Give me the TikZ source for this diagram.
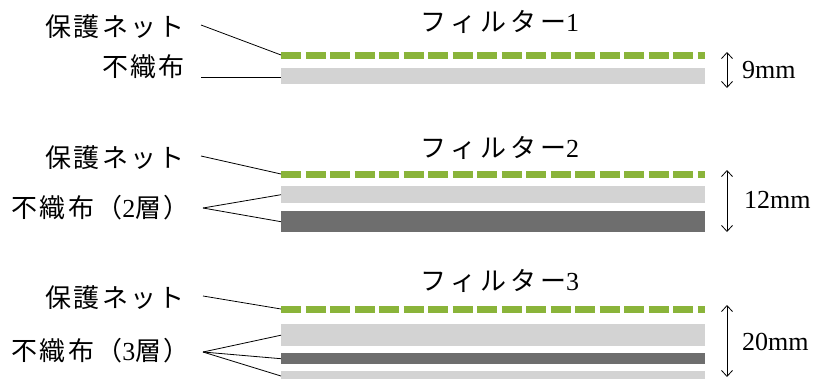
\documentclass[tikz,border=0pt]{standalone}
\usepackage{fontspec}
\setmainfont{Liberation Serif}
\newfontfamily\jp[LetterSpace=9]{Noto Sans CJK JP}
\newfontfamily\jpwide[LetterSpace=15]{Noto Sans CJK JP}
\usetikzlibrary{arrows.meta}
\definecolor{netgreen}{RGB}{138,180,58}
\definecolor{lightfleece}{RGB}{211,211,211}
\definecolor{darkfleece}{RGB}{110,110,110}
\tikzset{
  net/.style={draw=netgreen, line width=7pt, dash pattern=on 20pt off 4.5pt},
  sheet/.style={inner sep=0pt, minimum width=424pt, anchor=north west},
  lbl/.style={font=\fontsize{26}{26}\selectfont\jp, inner sep=0pt, anchor=east},
  ttl/.style={font=\fontsize{26}{26}\selectfont, inner sep=0pt},
  dim/.style={{Straight Barb[length=6pt,width=11pt]}-{Straight Barb[length=6pt,width=11pt]}, line width=0.8pt},
  mm/.style={font=\fontsize{26}{26}\selectfont, inner sep=0pt, anchor=west},
  lead/.style={line width=0.8pt}
}

\begin{document}
\begin{tikzpicture}[x=1pt,y=-1pt]
\useasboundingbox (0,0) rectangle (814,378);

% filter 1
\node[ttl] (t1) at (500,22) {{\jpwide フィルター}1};
\coordinate (n1) at (281,55);
\draw[net] (n1) -- ++(424,0);
\node[sheet, fill=lightfleece, minimum height=16pt] (s1a) at (281,68) {};
\node[lbl] (p1) at (185,27) {保護ネット};
\node[lbl] (f1) at (185,67) {不織布};
\draw[lead] ([xshift=16pt,yshift=2pt]p1.east) -- (n1);
\draw[lead] ([xshift=16pt,yshift=-10pt]f1.east) -- (s1a.west |- 0,77);
\coordinate (d1t) at (727,52);
\coordinate (d1b) at (727,88);
\draw[dim] (d1t) -- (d1b);
\node[mm] (m1) at (742,70) {9mm};

% filter 2
\node[ttl] (t2) at (500,148) {{\jpwide フィルター}2};
\coordinate (n2) at (281,174);
\draw[net] (n2) -- ++(424,0);
\node[sheet, fill=lightfleece, minimum height=17pt] (s2a) at (281,186) {};
\node[sheet, fill=darkfleece, minimum height=21pt] (s2b) at (281,211) {};
\node[lbl] (p2) at (185,158) {保護ネット};
\node[lbl] (f2) at (190,208) {不織布（{\rmfamily 2}層）};
\coordinate (c2) at (203,208);
\draw[lead] (201,156) -- (n2);
\draw[lead] (c2) -- (s2a.west);
\draw[lead] (c2) -- (s2b.west);
\coordinate (d2t) at (727,170);
\coordinate (d2b) at (727,232);
\draw[dim] (d2t) -- (d2b);
\node[mm] (m2) at (744,200) {12mm};

% filter 3
\node[ttl] (t3) at (500,281) {{\jpwide フィルター}3};
\coordinate (n3) at (281,309);
\draw[net] (n3) -- ++(424,0);
\node[sheet, fill=lightfleece, minimum height=22pt] (s3a) at (281,324) {};
\node[sheet, fill=darkfleece, minimum height=11pt] (s3b) at (281,353) {};
\node[sheet, fill=lightfleece, minimum height=10pt] (s3c) at (281,371) {};
\node[lbl] (p3) at (185,298) {保護ネット};
\node[lbl] (f3) at (190,351) {不織布（{\rmfamily 3}層）};
\coordinate (c3) at (203,352);
\draw[lead] (203,296) -- (n3);
\draw[lead] (c3) -- (s3a.west);
\draw[lead] (c3) -- (s3b.west);
\draw[lead] (c3) -- (281,376);
\coordinate (d3t) at (727,305);
\coordinate (d3b) at (727,377);
\draw[dim] (d3t) -- (d3b);
\node[mm] (m3) at (742,342) {20mm};
\end{tikzpicture}
\end{document}
